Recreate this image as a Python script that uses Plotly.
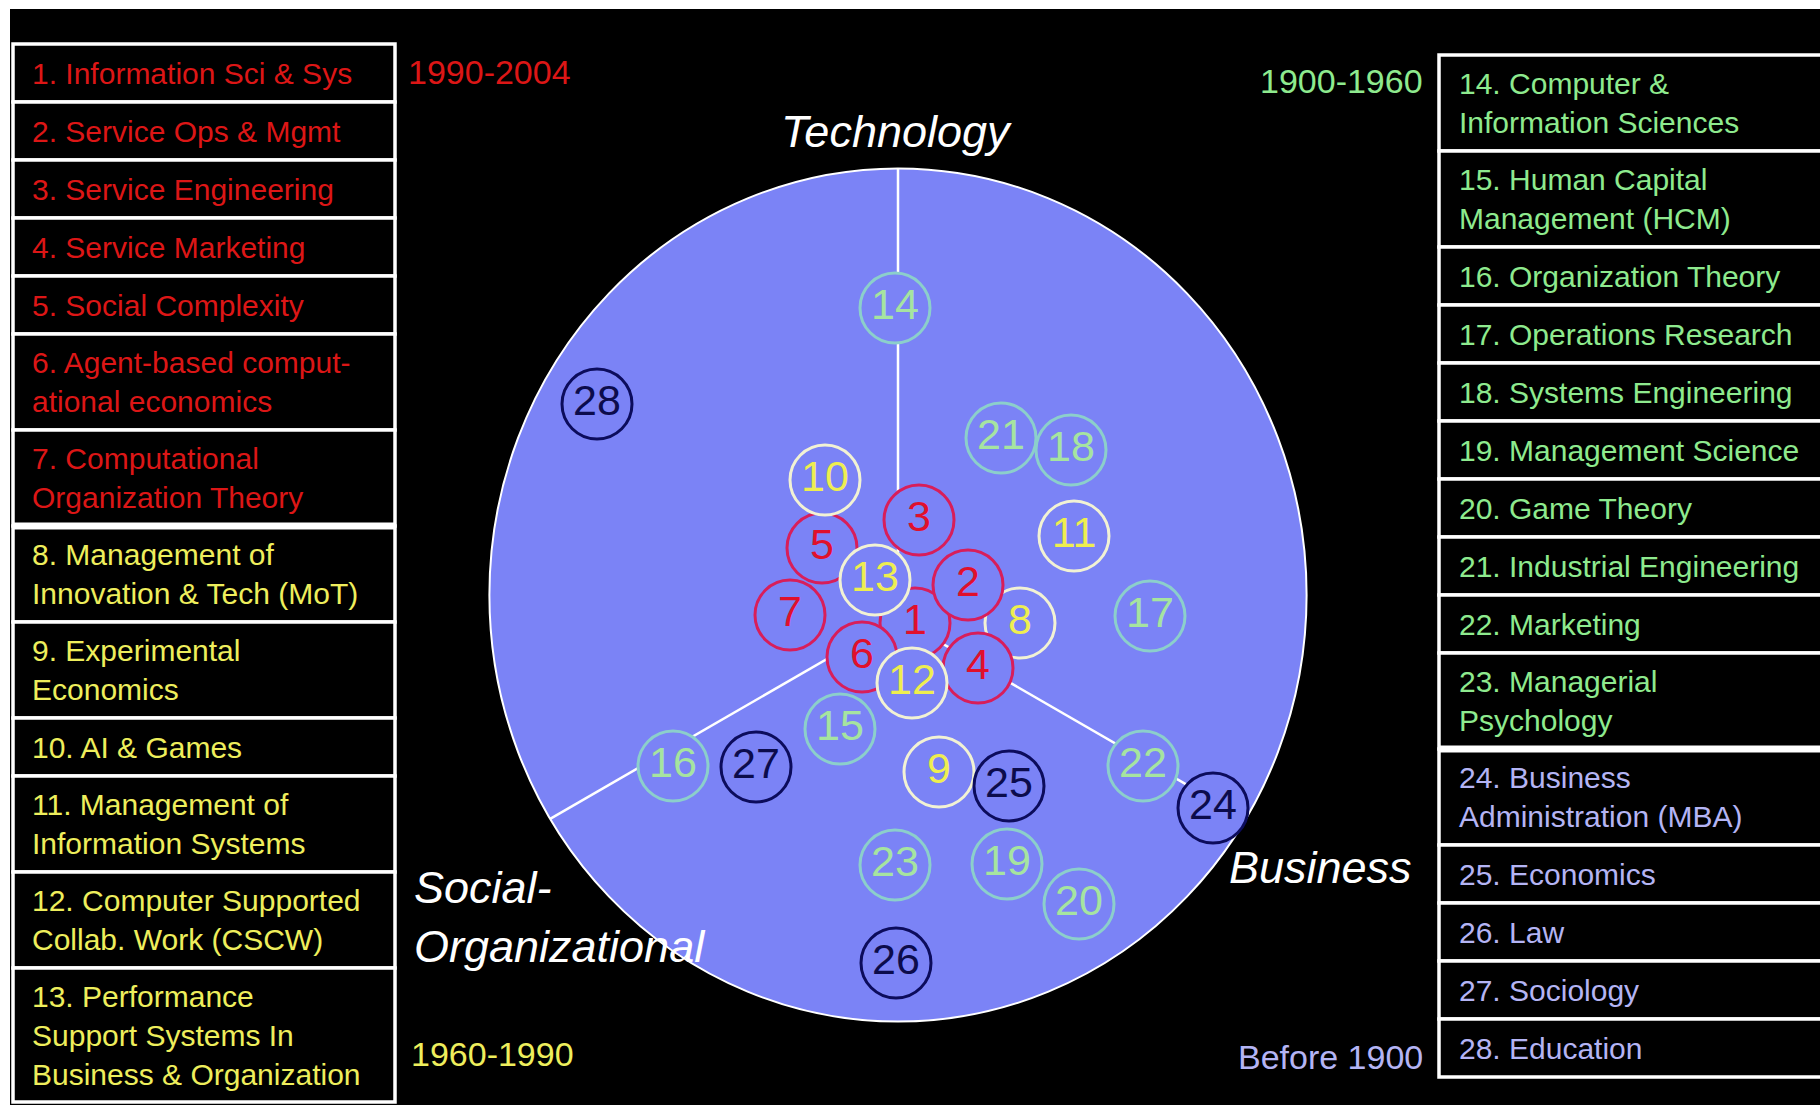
import math
import plotly.graph_objects as go

# ---------------- data ----------------
field_labels = [
    "1. Information Sci & Sys",
    "2. Service Ops & Mgmt",
    "3. Service Engineering",
    "4. Service Marketing",
    "5. Social Complexity",
    "6. Agent-based comput-<br>ational economics",
    "7. Computational<br>Organization Theory",
    "8. Management of<br>Innovation & Tech (MoT)",
    "9. Experimental<br>Economics",
    "10. AI & Games",
    "11. Management of<br>Information Systems",
    "12. Computer Supported<br>Collab. Work (CSCW)",
    "13. Performance<br>Support Systems In<br>Business & Organization",
    "14. Computer &<br>Information Sciences",
    "15. Human Capital<br>Management (HCM)",
    "16. Organization Theory",
    "17. Operations Research",
    "18. Systems Engineering",
    "19. Management Science",
    "20. Game Theory",
    "21. Industrial Engineering",
    "22. Marketing",
    "23. Managerial<br>Psychology",
    "24. Business<br>Administration (MBA)",
    "25. Economics",
    "26. Law",
    "27. Sociology",
    "28. Education",
]
field_ids = list(range(1, 29))
field_era = (["1990-2004"] * 7 + ["1960-1990"] * 6 +
             ["1900-1960"] * 10 + ["Before 1900"] * 5)

# circle centres (screen pixel coordinates of the diagram)
circle_x = [915, 968, 919, 978, 822, 862, 790, 1020, 939, 825, 1074, 912, 875,
            895, 840, 673, 1150, 1071, 1007, 1079, 1001, 1143, 895,
            1213, 1009, 896, 756, 597]
circle_y = [623, 585, 520, 668, 548, 657, 615, 623, 772, 480, 536, 683, 580,
            308, 729, 766, 616, 450, 864, 904, 438, 766, 865,
            808, 786, 963, 767, 404]

eras = ["1990-2004", "1960-1990", "1900-1960", "Before 1900"]
axis_labels = ["Technology", "Social-<br>Organizational", "Business"]

# ---------------- styles ----------------
era_text = {"1990-2004": "#DC1616", "1960-1990": "#EEEE5C",
            "1900-1960": "#8EEA8E", "Before 1900": "#B4B4F4"}
circ_line = {"1990-2004": "#D81E5A", "1960-1990": "#F2F2D4",
             "1900-1960": "#8CCFCB", "Before 1900": "#0C0C5C"}
circ_text = {"1990-2004": "#E0102C", "1960-1990": "#EEEE50",
             "1900-1960": "#A6E4A0", "Before 1900": "#0C0C4C"}
ELL = "#7B83F6"
TFONT = "Liberation Sans, Arial, sans-serif"
W, H = 1820, 1105

shapes, annos = [], []

# white page edges of the original picture
shapes.append(dict(type="rect", xref="paper", yref="paper", x0=0, x1=1,
                   y0=1 - 9 / H, y1=1, fillcolor="white", line_width=0, layer="below"))
shapes.append(dict(type="rect", xref="paper", yref="paper", x0=0, x1=10 / W,
                   y0=0, y1=1, fillcolor="white", line_width=0, layer="below"))

# big ellipse
cx, cy, rx, ry = 898, 595, 408.6, 426.6
shapes.append(dict(type="circle", xref="x", yref="y", x0=cx - rx, x1=cx + rx,
                   y0=cy - ry, y1=cy + ry, fillcolor=ELL,
                   line=dict(color="white", width=2), layer="below"))
# spokes
hx, hy = 898, 618
for ang in (90, 210, 330):
    dx, dy = math.cos(math.radians(ang)), -math.sin(math.radians(ang))
    a = (dx / rx) ** 2 + (dy / ry) ** 2
    b = 2 * ((hx - cx) * dx / rx ** 2 + (hy - cy) * dy / ry ** 2)
    c = ((hx - cx) / rx) ** 2 + ((hy - cy) / ry) ** 2 - 1
    t = (-b + math.sqrt(b * b - 4 * a * c)) / (2 * a)
    shapes.append(dict(type="line", xref="x", yref="y", x0=hx, y0=hy,
                       x1=hx + dx * t, y1=hy + dy * t,
                       line=dict(color="white", width=2.5), layer="below"))


def table(ids, x0, x1, ytop, tx):
    y = ytop
    for i in ids:
        lab = field_labels[i - 1]
        n = lab.count("<br>") + 1
        h = 58 + 38 * (n - 1)
        shapes.append(dict(type="rect", xref="x", yref="y", x0=x0, x1=x1,
                           y0=y, y1=y + h, fillcolor="black",
                           line=dict(color="white", width=3.5), layer="below"))
        annos.append(dict(x=tx, y=y + h / 2, xref="x", yref="y", text=lab,
                          showarrow=False, xanchor="left", yanchor="middle",
                          align="left",
                          font=dict(family=TFONT, size=30,
                                    color=era_text[field_era[i - 1]])))
        y += h


table(field_ids[:13], 13, 395, 44, 30)
table(field_ids[13:], 1439, 1900, 55, 1457)
# group separators
shapes.append(dict(type="line", xref="x", yref="y", x0=13, x1=395, y0=526, y1=526,
                   line=dict(color="white", width=7)))
shapes.append(dict(type="line", xref="x", yref="y", x0=1439, x1=1900, y0=749, y1=749,
                   line=dict(color="white", width=7)))

# era labels
era_pos = {"1990-2004": (406, 72, "left"), "1900-1960": (1425, 81, "right"),
           "1960-1990": (409, 1054, "left"), "Before 1900": (1425, 1057, "right")}
for e in eras:
    x, y, anc = era_pos[e]
    annos.append(dict(x=x, y=y, xref="x", yref="y", text=e, showarrow=False,
                      xanchor=anc, yanchor="middle",
                      font=dict(family=TFONT, size=34, color=era_text[e])))

# axis labels
ax_pos = [(896, 131, "center"), (412, 917, "left"), (1227, 867, "left")]
for lab, (x, y, anc) in zip(axis_labels, ax_pos):
    annos.append(dict(x=x, y=y, xref="x", yref="y", text="<i>" + lab + "</i>",
                      showarrow=False, xanchor=anc, yanchor="middle", align="left",
                      font=dict(family=TFONT, size=45, color="white")))

# circles
order = [8, 1, 3, 2, 4, 5, 7, 6, 10, 13, 12, 9, 11] + list(range(14, 29))
fig = go.Figure()
fig.add_trace(go.Scatter(
    x=[circle_x[i - 1] for i in order],
    y=[circle_y[i - 1] for i in order],
    text=[str(i) for i in order],
    mode="markers+text",
    textposition="middle center",
    marker=dict(size=70, color=ELL,
                line=dict(width=3, color=[circ_line[field_era[i - 1]] for i in order])),
    textfont=dict(family=TFONT, size=43,
                  color=[circ_text[field_era[i - 1]] for i in order]),
    hoverinfo="skip", showlegend=False, cliponaxis=False))

fig.update_layout(
    width=W, height=H, autosize=False,
    margin=dict(l=0, r=0, t=0, b=0, pad=0),
    paper_bgcolor="black", plot_bgcolor="black",
    xaxis=dict(range=[0, W], visible=False, fixedrange=True),
    yaxis=dict(range=[H, 0], visible=False, fixedrange=True),
    shapes=shapes, annotations=annos, showlegend=False,
)
fig.write_html("out.html",
               config={"displayModeBar": False, "staticPlot": True},
               post_script="document.body.style.margin='0';"
                           "document.body.style.overflow='hidden';")
